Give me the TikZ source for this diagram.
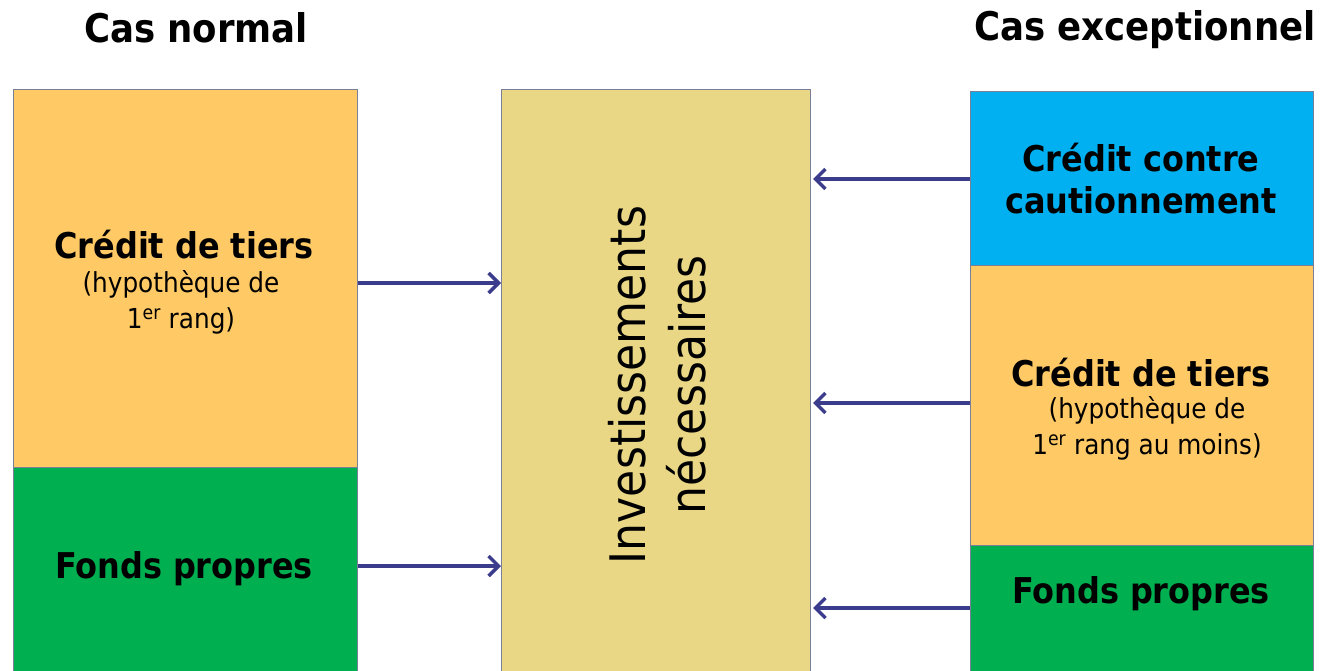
\documentclass[tikz,border=0pt]{standalone}
\usepackage{fontspec}
\setmainfont{DejaVu Sans Condensed}
\usetikzlibrary{arrows.meta}
\definecolor{orangeC}{HTML}{FFCA66}
\definecolor{greenC}{HTML}{00B050}
\definecolor{blueC}{HTML}{00B0F0}
\definecolor{khakiC}{HTML}{E9D786}
\definecolor{edgeC}{HTML}{7A7F99}
\definecolor{arrowC}{HTML}{3C3C8C}
\tikzset{
  box/.style={draw=edgeC, line width=1pt, anchor=north west, inner sep=0pt},
  head/.style={font=\fontsize{39.5}{46}\selectfont\bfseries, inner sep=0pt},
  big/.style={font=\fontsize{35.5}{42}\selectfont\bfseries, inner sep=0pt, align=center},
  small/.style={font=\fontsize{27.5}{36}\selectfont, inner sep=0pt, align=center},
  conn/.style={draw=arrowC, line width=3.5pt, -{Straight Barb[length=10pt,width=20pt,line width=3.5pt]}},
}
\begin{document}
\begin{tikzpicture}[x=1pt,y=-1pt]
\clip (0,0) rectangle (1321,670);
\fill[white] (0,0) rectangle (1321,670);
% titles
\node[head] (t1) at (196,28) {Cas normal};
\node[head] (t2) at (1145,30) {Cas exceptionnel};
% left column
\node[box, fill=orangeC, minimum width=344pt, minimum height=378pt] (lo) at (13,89) {};
\node[box, fill=greenC, minimum width=344pt, minimum height=260pt] (lg) at (13,467) {};
% middle
\node[box, fill=khakiC, minimum width=309pt, minimum height=640pt] (mid) at (501,89) {};
% right column
\node[box, fill=blueC, minimum width=343pt, minimum height=174pt] (rb) at (970,91) {};
\node[box, fill=orangeC, minimum width=343pt, minimum height=280pt] (ro) at (970,265) {};
\node[box, fill=greenC, minimum width=343pt, minimum height=200pt] (rg) at (970,545) {};
% texts
\node[big] (lot1) at (184,245) {Crédit de tiers};
\node[small] (lot2) at (181,302) {(hypothèque de\\1\textsuperscript{er} rang)};
\node[big] (lgt) at (184,569) {Fonds propres};
\node[font=\fontsize{49}{60}\selectfont, rotate=90, align=center, inner sep=0pt] (midt) at (657,385) {Investissements\\nécessaires};
\node[big, font=\fontsize{35.5}{42}\selectfont\bfseries] (rbt) at (1141,179) {Crédit contre\\cautionnement};
\node[big] (rot1) at (1141,373) {Crédit de tiers};
\node[small] (rot2) at (1147,428) {(hypothèque de\\1\textsuperscript{er} rang au moins)};
\node[big] (rgt) at (1141,594) {Fonds propres};
% connectors
\draw[conn] (lo.east |- 0,283) -- (mid.west |- 0,283);
\draw[conn] (lg.east |- 0,566) -- (mid.west |- 0,566);
\draw[conn] (rb.west |- 0,179) -- ([xshift=2pt]mid.east |- 0,179);
\draw[conn] (ro.west |- 0,403) -- ([xshift=2pt]mid.east |- 0,403);
\draw[conn] (rg.west |- 0,608) -- ([xshift=2pt]mid.east |- 0,608);
\end{tikzpicture}
\end{document}
